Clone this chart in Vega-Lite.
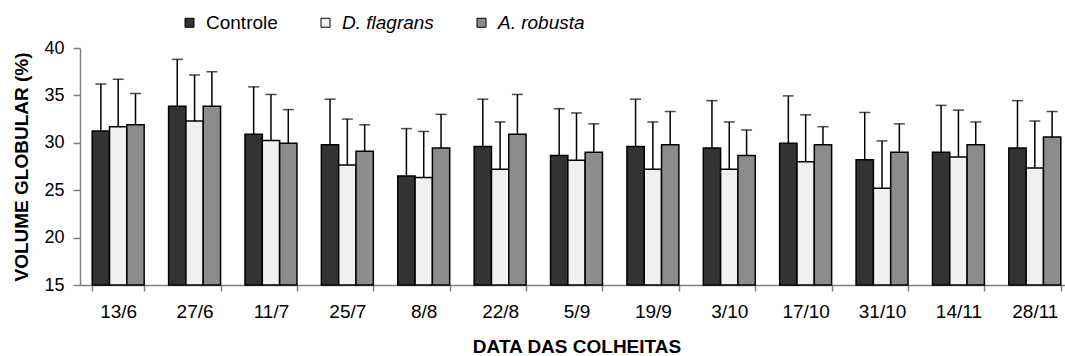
{
  "$schema": "https://vega.github.io/schema/vega-lite/v6.json",
  "autosize": {"type": "none"},
  "padding": {"left": 80, "top": 48, "right": -8, "bottom": 71},
  "width": 993,
  "height": 237,
  "background": "white",
  "config": {
    "view": {"stroke": null},
    "font": "Liberation Sans",
    "axis": {"labelFont": "Liberation Sans", "titleFont": "Liberation Sans", "labelColor": "black", "titleColor": "black", "domainColor": "#808080", "tickColor": "#808080", "domainWidth": 1.5, "tickWidth": 1.5, "grid": false}
  },
  "data": {"values": [
    {"data": "13/6", "grupo": "Controle", "valor": 31.25, "sup": 36.2},
    {"data": "13/6", "grupo": "D. flagrans", "valor": 31.7, "sup": 36.7},
    {"data": "13/6", "grupo": "A. robusta", "valor": 31.9, "sup": 35.2},
    {"data": "27/6", "grupo": "Controle", "valor": 33.85, "sup": 38.8},
    {"data": "27/6", "grupo": "D. flagrans", "valor": 32.3, "sup": 37.15},
    {"data": "27/6", "grupo": "A. robusta", "valor": 33.85, "sup": 37.5},
    {"data": "11/7", "grupo": "Controle", "valor": 30.9, "sup": 35.9},
    {"data": "11/7", "grupo": "D. flagrans", "valor": 30.25, "sup": 35.1},
    {"data": "11/7", "grupo": "A. robusta", "valor": 29.95, "sup": 33.5},
    {"data": "25/7", "grupo": "Controle", "valor": 29.8, "sup": 34.6},
    {"data": "25/7", "grupo": "D. flagrans", "valor": 27.65, "sup": 32.5},
    {"data": "25/7", "grupo": "A. robusta", "valor": 29.1, "sup": 31.9},
    {"data": "8/8", "grupo": "Controle", "valor": 26.5, "sup": 31.5},
    {"data": "8/8", "grupo": "D. flagrans", "valor": 26.35, "sup": 31.2},
    {"data": "8/8", "grupo": "A. robusta", "valor": 29.45, "sup": 33.0},
    {"data": "22/8", "grupo": "Controle", "valor": 29.6, "sup": 34.6},
    {"data": "22/8", "grupo": "D. flagrans", "valor": 27.2, "sup": 32.2},
    {"data": "22/8", "grupo": "A. robusta", "valor": 30.9, "sup": 35.1},
    {"data": "5/9", "grupo": "Controle", "valor": 28.65, "sup": 33.6},
    {"data": "5/9", "grupo": "D. flagrans", "valor": 28.15, "sup": 33.15},
    {"data": "5/9", "grupo": "A. robusta", "valor": 29.0, "sup": 32.0},
    {"data": "19/9", "grupo": "Controle", "valor": 29.6, "sup": 34.6},
    {"data": "19/9", "grupo": "D. flagrans", "valor": 27.2, "sup": 32.2},
    {"data": "19/9", "grupo": "A. robusta", "valor": 29.8, "sup": 33.3},
    {"data": "3/10", "grupo": "Controle", "valor": 29.45, "sup": 34.45},
    {"data": "3/10", "grupo": "D. flagrans", "valor": 27.2, "sup": 32.2},
    {"data": "3/10", "grupo": "A. robusta", "valor": 28.65, "sup": 31.35},
    {"data": "17/10", "grupo": "Controle", "valor": 29.95, "sup": 34.95},
    {"data": "17/10", "grupo": "D. flagrans", "valor": 28.0, "sup": 32.95},
    {"data": "17/10", "grupo": "A. robusta", "valor": 29.8, "sup": 31.7},
    {"data": "31/10", "grupo": "Controle", "valor": 28.2, "sup": 33.2},
    {"data": "31/10", "grupo": "D. flagrans", "valor": 25.2, "sup": 30.2},
    {"data": "31/10", "grupo": "A. robusta", "valor": 29.0, "sup": 32.0},
    {"data": "14/11", "grupo": "Controle", "valor": 29.0, "sup": 33.95},
    {"data": "14/11", "grupo": "D. flagrans", "valor": 28.5, "sup": 33.45},
    {"data": "14/11", "grupo": "A. robusta", "valor": 29.8, "sup": 32.2},
    {"data": "28/11", "grupo": "Controle", "valor": 29.45, "sup": 34.45},
    {"data": "28/11", "grupo": "D. flagrans", "valor": 27.35, "sup": 32.3},
    {"data": "28/11", "grupo": "A. robusta", "valor": 30.6, "sup": 33.3}
  ]},
  "encoding": {
    "x": {
      "field": "data", "type": "nominal", "sort": null,
      "scale": {"paddingInner": 0.32, "paddingOuter": 0.16},
      "axis": {"title": "DATA DAS COLHEITAS", "labelAngle": 0, "labelFontSize": 19, "titleFontSize": 19, "titleFontWeight": "bold", "tickBand": "extent", "tickSize": 6, "labelPadding": 11, "titlePadding": 16}
    },
    "xOffset": {"field": "grupo", "type": "nominal", "scale": {"domain": ["Controle", "D. flagrans", "A. robusta"], "paddingInner": 0, "paddingOuter": 0}}
  },
  "layer": [
    {
      "mark": {"type": "bar", "stroke": "black", "strokeWidth": 1.5},
      "encoding": {
        "y": {"field": "valor", "type": "quantitative", "scale": {"domain": [15, 40], "zero": false, "nice": false},
          "axis": {"title": "VOLUME GLOBULAR (%)", "values": [15, 20, 25, 30, 35, 40], "labelFontSize": 18, "titleFontSize": 19, "titleFontWeight": "bold", "tickSize": 7, "labelPadding": 9, "titlePadding": 12}},
        "y2": {"datum": 15},
        "fill": {"field": "grupo", "type": "nominal",
          "scale": {"domain": ["Controle", "D. flagrans", "A. robusta"], "range": ["#333333", "#f0f0f0", "#8c8c8c"]},
          "legend": {"title": null, "orient": "none", "legendX": 100, "legendY": -35, "direction": "horizontal", "symbolType": "square", "symbolSize": 81, "symbolStrokeColor": "black", "symbolStrokeWidth": 1, "labelFontSize": 19, "labelFont": "Liberation Sans", "labelColor": "black", "labelOffset": 7, "columnPadding": 38, "labelFontStyle": {"expr": "datum.label == 'Controle' ? 'normal' : 'italic'"}}}
      }
    },
    {
      "mark": {"type": "rule", "color": "black", "strokeWidth": 1.5},
      "encoding": {
        "y": {"field": "valor", "type": "quantitative"},
        "y2": {"field": "sup"}
      }
    },
    {
      "mark": {"type": "tick", "color": "black", "thickness": 1.5, "size": 11, "orient": "horizontal"},
      "encoding": {
        "y": {"field": "sup", "type": "quantitative"}
      }
    }
  ]
}
